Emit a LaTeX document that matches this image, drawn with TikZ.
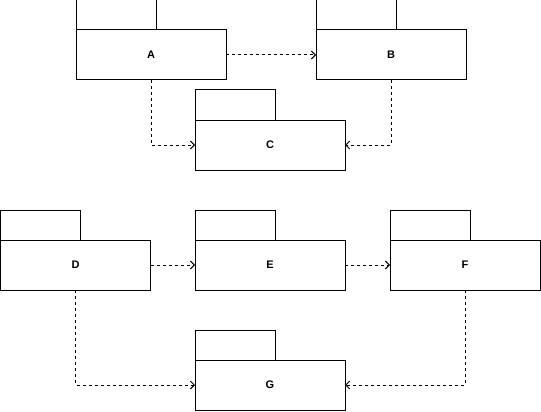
\documentclass[tikz,border=0pt]{standalone}
\usepackage{fontspec}
\setmainfont{Liberation Sans}
\usetikzlibrary{positioning,arrows.meta}
\tikzset{
  >={Straight Barb[length=4pt,width=8pt]},
  % --- nodes
  pkg/.style  = {draw=black, fill=white, line width=1pt, minimum width=150pt,
                 minimum height=50pt, inner sep=0pt, outer sep=0pt,
                 font=\fontsize{11}{13}\selectfont\bfseries},
  tab/.style  = {draw=black, fill=white, line width=1pt, minimum width=80pt,
                 minimum height=30pt, inner sep=0pt, outer sep=0pt,
                 anchor=south west},
  % --- edges
  dep/.style  = {->, draw=black, line width=1pt, dash pattern=on 3pt off 3pt},
}
\begin{document}
\begin{tikzpicture}[x=1pt,y=-1pt]
  \useasboundingbox (0,0) rectangle (541,412);
  % packages
  \foreach \n/\x/\y in {A/151/55, B/391/55, C/270/145,
                        D/75.5/265, E/270/265, F/465/265, G/270/385}
  {
    \node[pkg] (\n) at (\x,\y) {\n};
    \node[tab] (tab\n) at (\n.north west) {};
  }
  % dependencies
  \draw[dep] (A.east) -- (B.west);
  \draw[dep] (A.south) |- (C.west);
  \draw[dep] (B.south) |- (C.east);
  \draw[dep] (D.east) -- (E.west);
  \draw[dep] (E.east) -- (F.west);
  \draw[dep] (D.south) |- (G.west);
  \draw[dep] (F.south) |- (G.east);
\end{tikzpicture}
\end{document}
